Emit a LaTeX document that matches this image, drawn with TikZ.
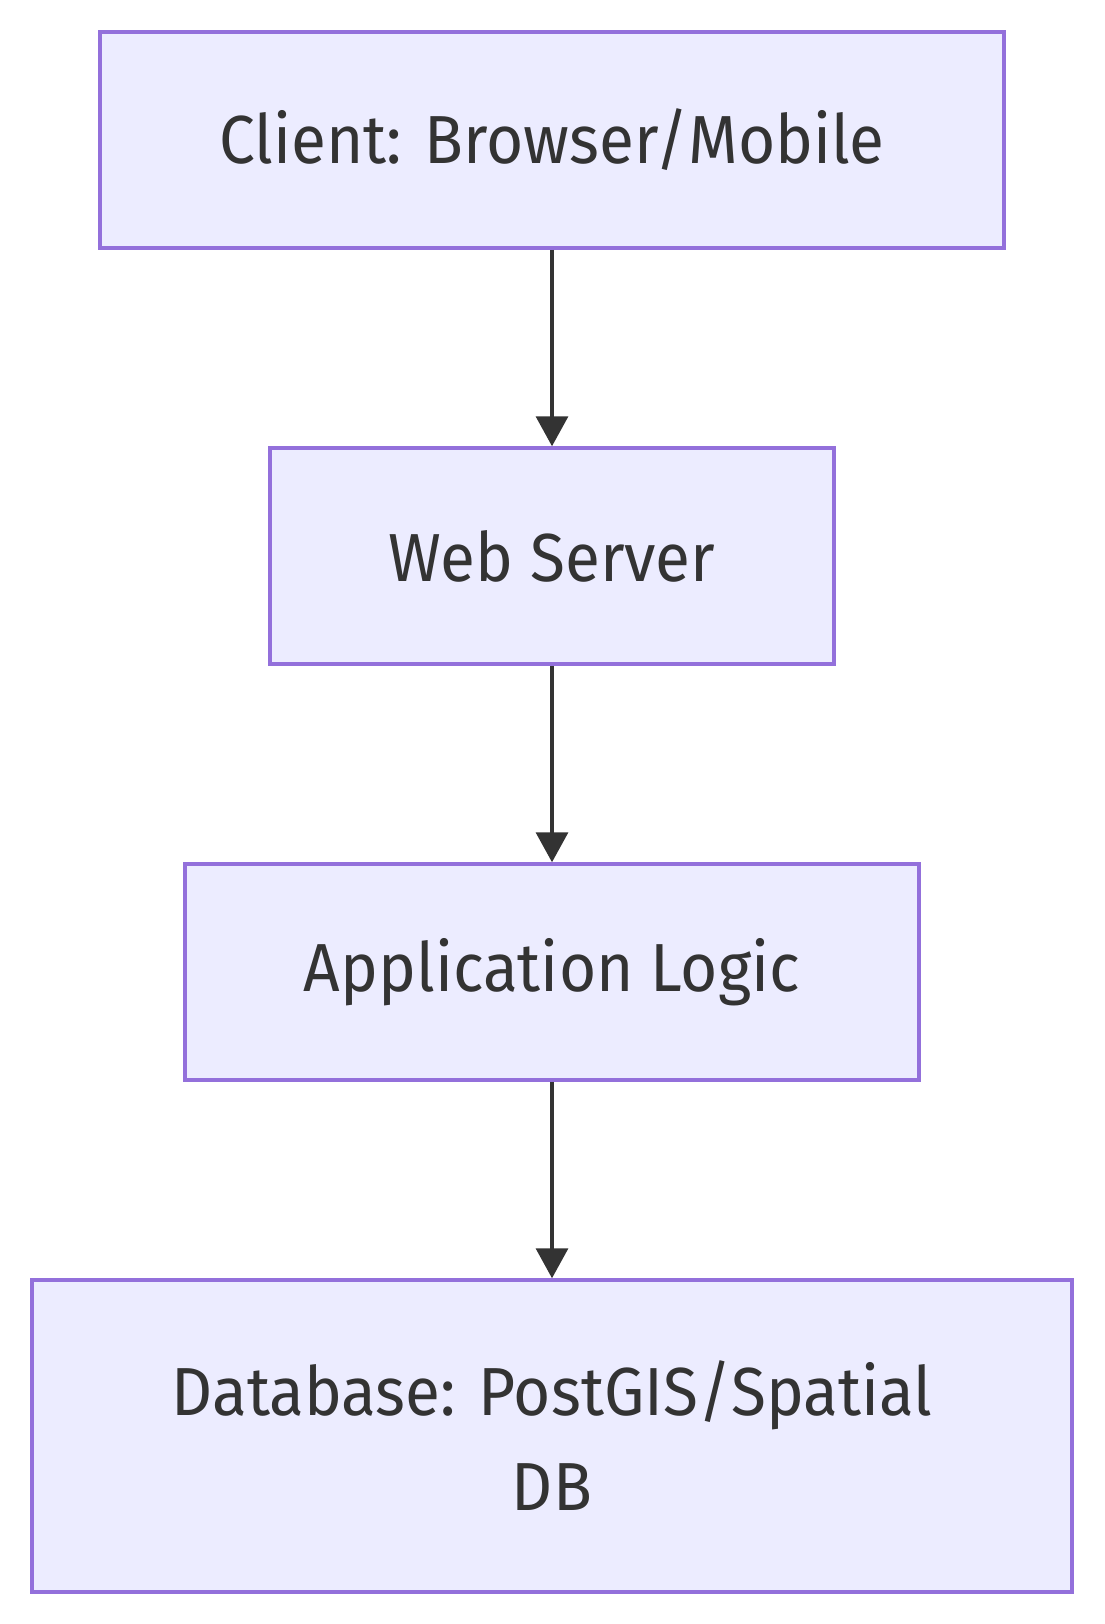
\documentclass[tikz,border=0pt]{standalone}
\usepackage{fontspec}
\setmainfont{Fira Sans}[FakeStretch=0.94]
\usetikzlibrary{arrows.meta}
\definecolor{boxfill}{HTML}{ECECFF}
\definecolor{boxline}{HTML}{9370DB}
\definecolor{ink}{HTML}{333333}
\begin{document}
\begin{tikzpicture}[x=1pt,y=-1pt,
  stage/.style={draw=boxline, fill=boxfill, line width=3.5pt, rectangle,
    inner sep=0pt, text=ink, align=center,
    font=\fontsize{68}{95}\selectfont},
  flow/.style={draw=ink, line width=3.5pt, -{Triangle[width=32pt,length=30pt]}}]
  \useasboundingbox (0,0) rectangle (1104,1624);
  \node[stage, minimum width=904pt, minimum height=216pt] (client) at (552,140) {Client: Browser/Mobile};
  \node[stage, minimum width=564pt, minimum height=216pt] (web) at (552,556) {Web Server};
  \node[stage, minimum width=734pt, minimum height=216pt] (app) at (552,972) {Application Logic};
  \node[stage, minimum width=1040pt, minimum height=312pt] (db) at (552,1436) {Database: PostGIS/Spatial\\DB};
  \draw[flow] (client) -- (web);
  \draw[flow] (web) -- (app);
  \draw[flow] (app) -- (db);
\end{tikzpicture}
\end{document}
